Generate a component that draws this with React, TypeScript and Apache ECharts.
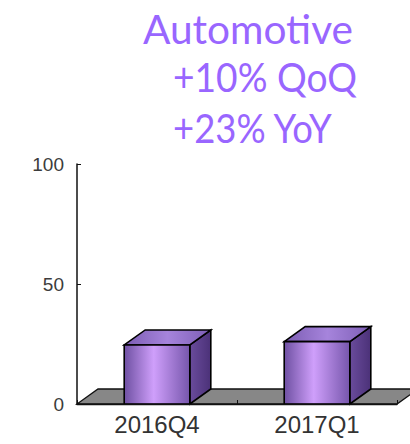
import React, { useEffect, useRef } from 'react';
import * as echarts from 'echarts';

const categories = ['2016Q4', '2017Q1'];
const values = [24.6, 26];
const yMin = 0;
const yMax = 100;
const yInterval = 50;
const titleLines = ['Automotive', '+10% QoQ', '+23% YoY'];

const TITLE_FONT = 'Lato';
const TITLE_SIZE = 40;
const titleLayout = [
  { x: 143, y: 29, w: 210 },
  { x: 173, y: 76, w: 184 },
  { x: 173, y: 127, w: 160 },
];

const DX = 21;
const DY = -15;

function measure(text: string, font: string) {
  const c = document.createElement('canvas');
  const ctx = c.getContext('2d')!;
  ctx.font = font;
  return ctx.measureText(text).width;
}

export default function App() {
  const ref = useRef<HTMLDivElement>(null);
  useEffect(() => {
    document.body.style.margin = '0';
    const chart = echarts.init(ref.current!, null, { renderer: 'svg' });

    const frontGrad = new echarts.graphic.LinearGradient(0, 0, 1, 0, [
      { offset: 0, color: '#6e50a2' },
      { offset: 0.45, color: '#cf9ffb' },
      { offset: 1, color: '#7656ac' },
    ]);
    const topGrad = new echarts.graphic.LinearGradient(0, 0, 1, 0, [
      { offset: 0, color: '#7b5cb2' },
      { offset: 0.5, color: '#a684dc' },
      { offset: 1, color: '#7d5eb5' },
    ]);
    const sideGrad = new echarts.graphic.LinearGradient(0, 0, 1, 0, [
      { offset: 0, color: '#6a4c9c' },
      { offset: 1, color: '#4b3178' },
    ]);

    const floorRender = (params: any, api: any) => {
      const band = api.size([1, 0])[0];
      const p0 = api.coord([0, 0]);
      const p1 = api.coord([categories.length - 1, 0]);
      const xl = p0[0] - band / 2;
      const xr = p1[0] + band / 2;
      const y = p0[1];
      return {
        type: 'polygon',
        shape: { points: [[xl, y], [xr, y], [xr + DX, y + DY], [xl + DX, y + DY]] },
        style: { fill: '#878787', stroke: '#111', lineWidth: 1.3 },
      };
    };

    const barRender = (params: any, api: any) => {
      const i = api.value(0);
      const v = api.value(1);
      const top = api.coord([i, v]);
      const bot = api.coord([i, 0]);
      const bw = api.size([1, 0])[0] * 0.41;
      const xl = top[0] - bw / 2;
      const xr = top[0] + bw / 2;
      const yt = top[1];
      const yb = bot[1];
      return {
        type: 'group',
        children: [
          {
            type: 'polygon',
            shape: { points: [[xr, yb], [xr + DX, yb + DY], [xr + DX, yt + DY], [xr, yt]] },
            style: { fill: sideGrad, stroke: '#000', lineWidth: 1.6 },
          },
          {
            type: 'polygon',
            shape: { points: [[xl, yt], [xr, yt], [xr + DX, yt + DY], [xl + DX, yt + DY]] },
            style: { fill: topGrad, stroke: '#000', lineWidth: 1.6 },
          },
          {
            type: 'rect',
            shape: { x: xl, y: yt, width: bw, height: yb - yt },
            style: { fill: frontGrad, stroke: '#000', lineWidth: 1.6 },
          },
        ],
      };
    };

    const graphic = titleLines.map((t, k) => {
      const L = titleLayout[k];
      const natural = measure(t, `${TITLE_SIZE}px ${TITLE_FONT}`);
      const s = natural > 0 ? L.w / natural : 1;
      return {
        type: 'text',
        x: L.x,
        y: L.y,
        scaleX: s,
        style: {
          text: t,
          fill: '#9966ff',
          fontSize: TITLE_SIZE,
          fontFamily: TITLE_FONT,
          align: 'left',
          verticalAlign: 'middle',
        },
      };
    });

    chart.setOption({
      animation: false,
      backgroundColor: '#ffffff',
      grid: { left: 77, right: 13, top: 164, bottom: 40 },
      xAxis: {
        type: 'category',
        data: categories,
        z: 5,
        axisLine: { show: true, lineStyle: { color: '#111', width: 1.3 } },
        axisTick: { show: true, inside: true, length: 4, lineStyle: { color: '#111' } },
        axisLabel: {
          color: '#333',
          fontSize: 24,
          fontFamily: 'Liberation Sans',
          margin: 8,
        },
        splitLine: { show: false },
      },
      yAxis: {
        type: 'value',
        min: yMin,
        max: yMax,
        interval: yInterval,
        z: 5,
        axisLine: { show: true, lineStyle: { color: '#111', width: 1.5 } },
        axisTick: { show: true, inside: true, length: 4, lineStyle: { color: '#111' } },
        axisLabel: {
          color: '#3c3c3c',
          fontSize: 19,
          fontFamily: 'Liberation Sans',
          margin: 13,
        },
        splitLine: { show: false },
      },
      series: [
        { type: 'custom', renderItem: floorRender, data: [[0, 0]], z: 1, silent: true },
        { type: 'custom', renderItem: barRender, data: values.map((v, i) => [i, v]), z: 3 },
      ],
      graphic,
    });

    return () => chart.dispose();
  }, []);

  return <div ref={ref} style={{ position: 'absolute', left: 0, top: 0, width: 410, height: 444 }} />;
}
